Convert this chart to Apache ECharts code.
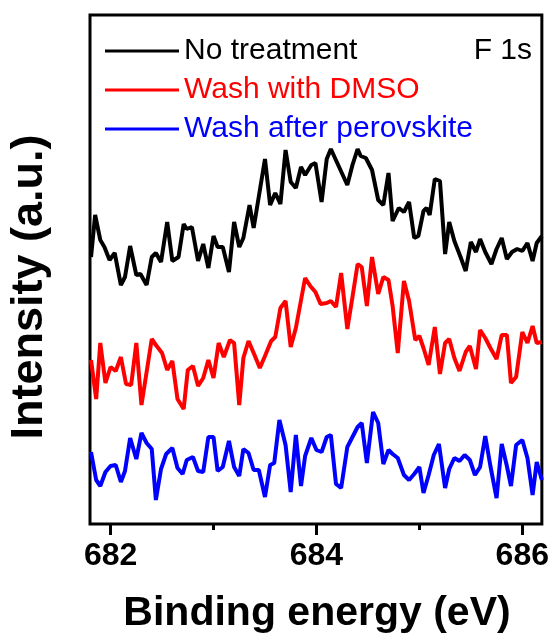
<!DOCTYPE html>
<html>
<head>
<meta charset="utf-8">
<script src="https://cdn.jsdelivr.net/npm/echarts@6/dist/echarts.min.js"></script>
<style>
  html, body { margin: 0; padding: 0; background: #fff; }
  #chart { width: 552px; height: 644px; }
</style>
</head>
<body>
<div id="chart"></div>
<script>
// F 1s XPS spectra: binding energy (eV) and intensity (a.u., curves offset vertically)
const energyNoTreatment = [681.81,681.85,681.90,681.94,681.99,682.04,682.10,682.14,682.19,682.25,682.29,682.35,682.40,682.44,682.49,682.55,682.60,682.66,682.71,682.74,682.79,682.85,682.90,682.95,683.00,683.04,683.09,683.15,683.20,683.25,683.29,683.35,683.39,683.50,683.55,683.60,683.65,683.70,683.75,683.80,683.85,683.89,683.95,683.99,684.05,684.10,684.14,684.22,684.30,684.35,684.40,684.43,684.48,684.54,684.60,684.65,684.70,684.74,684.80,684.85,684.90,684.95,684.99,685.04,685.07,685.10,685.15,685.20,685.25,685.29,685.34,685.40,685.45,685.50,685.55,685.59,685.64,685.70,685.75,685.80,685.85,685.90,685.95,686.00,686.05,686.10,686.14,686.19];
const intensityNoTreatment = [267,309,284,277,264,271,239,247,278,249,250,239,267,271,262,302,263,267,300,295,297,263,280,256,288,277,277,252,302,277,286,319,296,365,319,331,320,374,342,336,357,349,359,361,322,365,375,357,339,359,375,368,366,354,324,319,351,303,316,312,322,286,288,313,316,309,345,343,270,302,283,267,253,282,272,285,272,260,275,286,265,272,275,273,281,263,281,288];

const energyDMSO = [681.81,681.86,681.90,681.95,682.00,682.05,682.10,682.15,682.20,682.25,682.30,682.40,682.44,682.50,682.55,682.60,682.65,682.71,682.75,682.80,682.85,682.90,682.95,683.00,683.05,683.10,683.16,683.20,683.25,683.29,683.34,683.39,683.45,683.50,683.56,683.60,683.65,683.70,683.75,683.80,683.89,683.94,683.99,684.04,684.10,684.14,684.19,684.24,684.30,684.35,684.40,684.44,684.49,684.54,684.60,684.65,684.70,684.74,684.79,684.85,684.90,684.96,685.00,685.04,685.09,685.15,685.20,685.25,685.29,685.34,685.39,685.45,685.49,685.55,685.59,685.64,685.69,685.75,685.80,685.85,685.89,685.94,686.00,686.05,686.10,686.14,686.19];
const intensityDMSO = [164,125,181,141,157,153,167,140,139,181,119,185,179,171,154,163,125,115,154,158,138,146,164,146,181,167,184,181,119,166,183,171,156,168,183,187,216,223,177,196,246,238,232,220,221,223,217,251,195,227,260,257,218,267,230,247,244,218,171,243,223,184,188,176,159,197,150,181,185,166,153,172,178,155,194,186,176,165,189,189,141,147,192,181,198,181,182];

const energyPerovskite = [681.81,681.86,681.90,681.95,682.00,682.05,682.10,682.14,682.19,682.25,682.30,682.35,682.40,682.44,682.49,682.54,682.60,682.65,682.70,682.74,682.80,682.85,682.90,682.95,683.00,683.04,683.09,683.15,683.20,683.25,683.29,683.34,683.39,683.44,683.50,683.55,683.59,683.64,683.70,683.75,683.80,683.85,683.89,683.95,684.00,684.05,684.10,684.14,684.19,684.24,684.30,684.35,684.40,684.44,684.49,684.55,684.60,684.65,684.70,684.74,684.79,684.85,684.90,684.95,685.00,685.04,685.09,685.14,685.19,685.25,685.29,685.34,685.39,685.44,685.49,685.54,685.59,685.64,685.69,685.75,685.80,685.85,685.89,685.94,686.00,686.05,686.10,686.14,686.19];
const intensityPerovskite = [72,44,38,52,58,59,42,53,86,65,91,81,75,24,55,70,76,56,50,64,67,53,52,87,87,53,57,83,57,48,75,71,54,54,27,59,61,104,79,32,89,38,68,86,74,72,87,89,40,36,77,87,97,101,61,112,101,60,74,70,66,49,44,50,57,31,49,69,80,36,55,66,63,69,64,49,57,88,58,26,80,58,38,79,84,66,29,62,44];

const seriesNames = ['No treatment', 'Wash with DMSO', 'Wash after perovskite'];
const seriesColors = ['#000000', '#ff0000', '#0000ff'];
const majorTicks = [682, 684, 686];
const minorTicks = [683, 685];

const FONT = '"Liberation Sans", Arial, Helvetica, sans-serif';

function pairs(xs, ys) {
  return xs.map((x, i) => [x, ys[i]]);
}
const seriesData = [
  pairs(energyNoTreatment, intensityNoTreatment),
  pairs(energyDMSO, intensityDMSO),
  pairs(energyPerovskite, intensityPerovskite)
];

const chart = echarts.init(document.getElementById('chart'), null, { renderer: 'canvas' });

chart.setOption({
  animation: false,
  backgroundColor: '#ffffff',
  grid: {
    left: 90, right: 7, top: 15, bottom: 120,
    show: true, borderColor: '#000', borderWidth: 3, backgroundColor: 'transparent'
  },
  xAxis: [
    {
      type: 'value', min: 681.8, max: 686.19, position: 'bottom',
      axisLine: { show: false },
      splitLine: { show: false },
      axisTick: { show: true, inside: false, length: 11, lineStyle: { color: '#000', width: 3 }, customValues: majorTicks },
      axisLabel: {
        show: true, customValues: majorTicks, margin: 16,
        color: '#000', fontSize: 32, fontWeight: 'bold', fontFamily: FONT,
        formatter: v => String(v)
      }
    },
    {
      type: 'value', min: 681.8, max: 686.19, position: 'bottom',
      axisLine: { show: false },
      splitLine: { show: false },
      axisTick: { show: true, inside: false, length: 6, lineStyle: { color: '#000', width: 3 }, customValues: minorTicks },
      axisLabel: { show: false }
    }
  ],
  yAxis: {
    type: 'value', min: 0, max: 509,
    axisLine: { show: false }, axisTick: { show: false },
    axisLabel: { show: false }, splitLine: { show: false }
  },
  legend: {
    orient: 'vertical', left: 105, top: 36, padding: 0,
    icon: 'rect', itemWidth: 74, itemHeight: 3, itemGap: 9,
    selectedMode: false,
    textStyle: { fontSize: 30, fontFamily: FONT, lineHeight: 30 },
    data: seriesNames.map((n, i) => ({ name: n, textStyle: { color: seriesColors[i] } }))
  },
  series: seriesNames.map((n, i) => ({
    name: n,
    type: 'line',
    xAxisIndex: 0,
    data: seriesData[i],
    showSymbol: false,
    symbol: 'none',
    color: seriesColors[i],
    lineStyle: { color: seriesColors[i], width: 4 },
    z: 3 - i
  })),
  graphic: [
    {
      type: 'text', x: 532, y: 51,
      style: { text: 'F 1s', fill: '#000', font: '30px ' + FONT, textAlign: 'right', textVerticalAlign: 'middle' }
    },
    {
      type: 'text', x: 317, y: 614,
      style: { text: 'Binding energy (eV)', fill: '#000', font: 'bold 41px ' + FONT, textAlign: 'center', textVerticalAlign: 'middle' }
    },
    {
      type: 'text', x: 30, y: 287, rotation: Math.PI / 2,
      style: { text: 'Intensity (a.u.)', fill: '#000', font: 'bold 45px ' + FONT, textAlign: 'center', textVerticalAlign: 'middle' }
    }
  ]
});
</script>
</body>
</html>
